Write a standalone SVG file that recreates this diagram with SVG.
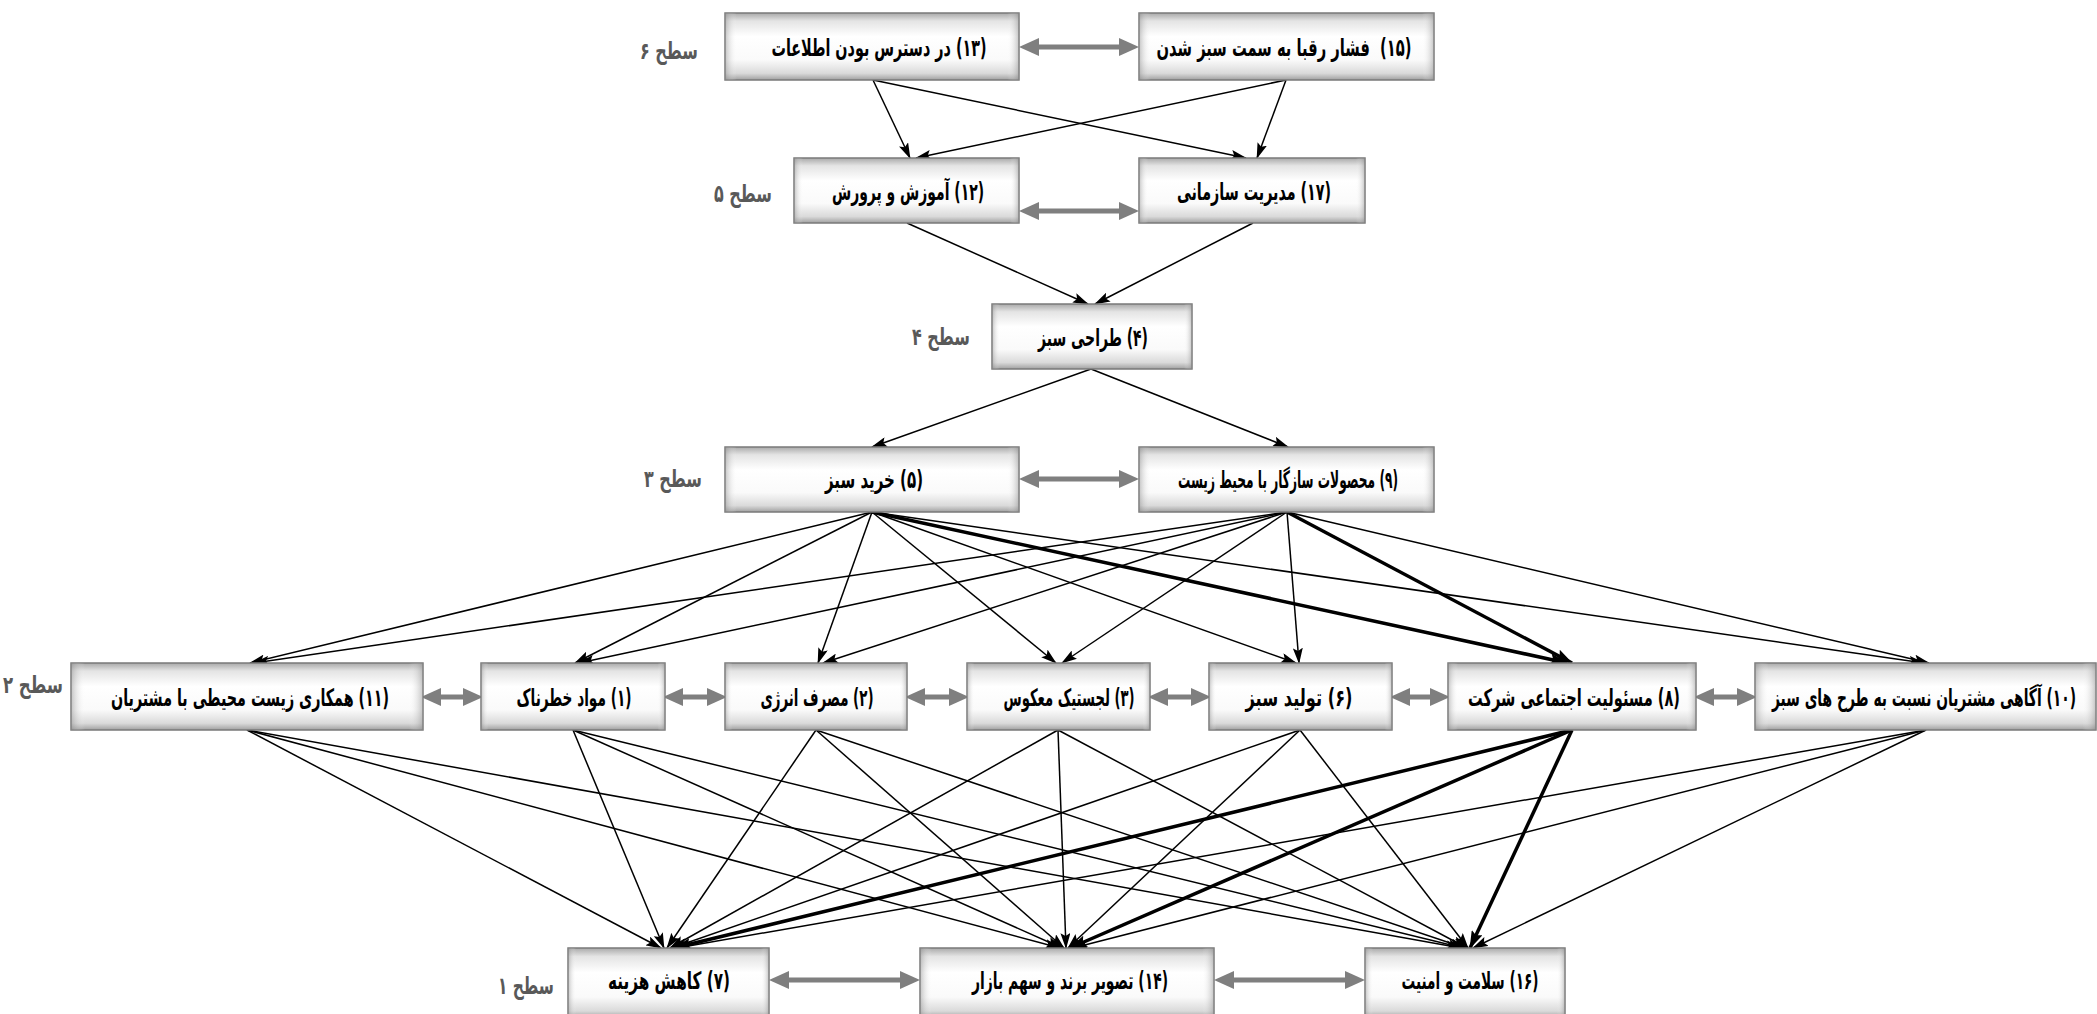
<svg xmlns="http://www.w3.org/2000/svg" width="2097" height="1014" viewBox="0 0 2097 1014">
<style>
.bx{fill:url(#gv);stroke:#7a7a7a;stroke-width:1.5}
.bh{fill:url(#gh);stroke:none}
.nt{font-family:"DejaVu Sans Condensed","DejaVu Sans",sans-serif;font-weight:bold;font-size:24px;fill:#000;text-anchor:middle;direction:rtl;unicode-bidi:embed}
.lv{font-family:"DejaVu Sans Condensed","DejaVu Sans",sans-serif;font-weight:bold;font-size:24px;fill:#595959;text-anchor:middle;direction:rtl;unicode-bidi:embed}
.c{stroke:#000;stroke-width:1.5;fill:none;marker-end:url(#ah)}
.t{stroke:#000;stroke-width:3.5;fill:none;marker-end:url(#ahT)}
.g{stroke:#7f7f7f;stroke-width:5;fill:none;marker-start:url(#ga);marker-end:url(#ga)}
</style>
<defs>
<linearGradient id="gv" x1="0" y1="0" x2="0" y2="1">
<stop offset="0" stop-color="#a9a9a9"/>
<stop offset="0.12" stop-color="#e4e4e4"/>
<stop offset="0.35" stop-color="#ffffff"/>
<stop offset="0.7" stop-color="#fafafa"/>
<stop offset="0.9" stop-color="#dadada"/>
<stop offset="1" stop-color="#a0a0a0"/>
</linearGradient>
<linearGradient id="gh" x1="0" y1="0" x2="1" y2="0">
<stop offset="0" stop-color="#888" stop-opacity="0.5"/>
<stop offset="0.04" stop-color="#fff" stop-opacity="0"/>
<stop offset="0.96" stop-color="#fff" stop-opacity="0"/>
<stop offset="1" stop-color="#888" stop-opacity="0.5"/>
</linearGradient>
<marker id="ah" markerUnits="userSpaceOnUse" markerWidth="16" markerHeight="10" refX="15" refY="5" orient="auto" viewBox="0 0 16 10">
<path d="M0,0 L16,5 L0,10 L3,5 z" fill="#000"/>
</marker>
<marker id="ahT" markerUnits="userSpaceOnUse" markerWidth="18" markerHeight="12" refX="17" refY="6" orient="auto" viewBox="0 0 18 12">
<path d="M0,0 L18,6 L0,12 L3,6 z" fill="#000"/>
</marker>
<marker id="ga" markerUnits="userSpaceOnUse" markerWidth="20" markerHeight="18" refX="0" refY="9" orient="auto-start-reverse" viewBox="0 0 20 18">
<path d="M0,0 L20,9 L0,18 z" fill="#7f7f7f"/>
</marker>
</defs>
<rect width="2097" height="1014" fill="#fff"/>

<g id="levels">
<text class="lv" x="669" y="59" textLength="58" lengthAdjust="spacingAndGlyphs">سطح ۶</text>
<text class="lv" x="743" y="202" textLength="58" lengthAdjust="spacingAndGlyphs">سطح ۵</text>
<text class="lv" x="941" y="345" textLength="58" lengthAdjust="spacingAndGlyphs">سطح ۴</text>
<text class="lv" x="673" y="487" textLength="58" lengthAdjust="spacingAndGlyphs">سطح ۳</text>
<text class="lv" x="33" y="693" textLength="60" lengthAdjust="spacingAndGlyphs">سطح ۲</text>
<text class="lv" x="526" y="994" textLength="56" lengthAdjust="spacingAndGlyphs">سطح ۱</text>
</g>

<g id="connectors">
<line class="c" x1="873" y1="80" x2="910" y2="158"/>
<line class="c" x1="873" y1="80" x2="1246" y2="158"/>
<line class="c" x1="1286" y1="80" x2="916" y2="158"/>
<line class="c" x1="1286" y1="80" x2="1257" y2="158"/>
<line class="c" x1="907" y1="223" x2="1088" y2="304"/>
<line class="c" x1="1253" y1="223" x2="1095" y2="304"/>
<line class="c" x1="1091" y1="369" x2="872" y2="447"/>
<line class="c" x1="1091" y1="369" x2="1288" y2="447"/>

<line class="c" x1="872" y1="512" x2="250" y2="663"/>
<line class="c" x1="872" y1="512" x2="575" y2="663"/>
<line class="c" x1="872" y1="512" x2="818" y2="663"/>
<line class="c" x1="872" y1="512" x2="1056" y2="663"/>
<line class="c" x1="872" y1="512" x2="1296" y2="663"/>
<line class="t" x1="872" y1="512" x2="1567" y2="663"/>
<line class="c" x1="872" y1="512" x2="1924" y2="663"/>
<line class="c" x1="1287" y1="512" x2="254" y2="663"/>
<line class="c" x1="1287" y1="512" x2="579" y2="663"/>
<line class="c" x1="1287" y1="512" x2="823" y2="663"/>
<line class="c" x1="1287" y1="512" x2="1062" y2="663"/>
<line class="c" x1="1287" y1="512" x2="1299" y2="663"/>
<line class="t" x1="1287" y1="512" x2="1572" y2="663"/>
<line class="c" x1="1287" y1="512" x2="1929" y2="663"/>

<line class="c" x1="247" y1="730" x2="661" y2="948"/>
<line class="c" x1="247" y1="730" x2="1060" y2="948"/>
<line class="c" x1="247" y1="730" x2="1461" y2="948"/>
<line class="c" x1="573" y1="730" x2="664" y2="948"/>
<line class="c" x1="573" y1="730" x2="1062" y2="948"/>
<line class="c" x1="573" y1="730" x2="1463" y2="948"/>
<line class="c" x1="816" y1="730" x2="667" y2="948"/>
<line class="c" x1="816" y1="730" x2="1064" y2="948"/>
<line class="c" x1="816" y1="730" x2="1465" y2="948"/>
<line class="c" x1="1058" y1="730" x2="670" y2="948"/>
<line class="c" x1="1058" y1="730" x2="1066" y2="948"/>
<line class="c" x1="1058" y1="730" x2="1467" y2="948"/>
<line class="c" x1="1300" y1="730" x2="672" y2="948"/>
<line class="c" x1="1300" y1="730" x2="1068" y2="948"/>
<line class="c" x1="1300" y1="730" x2="1468" y2="948"/>
<line class="t" x1="1572" y1="730" x2="674" y2="948"/>
<line class="t" x1="1572" y1="730" x2="1070" y2="948"/>
<line class="t" x1="1572" y1="730" x2="1470" y2="948"/>
<line class="c" x1="1926" y1="730" x2="677" y2="948"/>
<line class="c" x1="1926" y1="730" x2="1073" y2="948"/>
<line class="c" x1="1926" y1="730" x2="1473" y2="948"/>

<line class="g" x1="1039" y1="47" x2="1119" y2="47"/>
<line class="g" x1="1039" y1="211" x2="1119" y2="211"/>
<line class="g" x1="1039" y1="479" x2="1119" y2="479"/>
<line class="g" x1="441" y1="697" x2="463" y2="697"/>
<line class="g" x1="683" y1="697" x2="707" y2="697"/>
<line class="g" x1="925" y1="697" x2="949" y2="697"/>
<line class="g" x1="1168" y1="697" x2="1191" y2="697"/>
<line class="g" x1="1410" y1="697" x2="1430" y2="697"/>
<line class="g" x1="1714" y1="697" x2="1737" y2="697"/>
<line class="g" x1="789" y1="980" x2="900" y2="980"/>
<line class="g" x1="1234" y1="980" x2="1345" y2="980"/>
</g>

<g id="n13"><rect class="bx" x="725" y="13" width="294" height="67"/><rect class="bh" x="725" y="13" width="294" height="67"/><text class="nt" x="879" y="56" textLength="215" lengthAdjust="spacingAndGlyphs">(۱۳) در دسترس بودن اطلاعات</text></g>
<g id="n15"><rect class="bx" x="1139" y="13" width="295" height="67"/><rect class="bh" x="1139" y="13" width="295" height="67"/><text class="nt" x="1284" y="56" textLength="255" lengthAdjust="spacingAndGlyphs" style="white-space:pre">(۱۵)  فشار رقبا به سمت سبز شدن</text></g>
<g id="n12"><rect class="bx" x="794" y="158" width="225" height="65"/><rect class="bh" x="794" y="158" width="225" height="65"/><text class="nt" x="908" y="200" textLength="152" lengthAdjust="spacingAndGlyphs">(۱۲) آموزش و پرورش</text></g>
<g id="n17"><rect class="bx" x="1139" y="158" width="226" height="65"/><rect class="bh" x="1139" y="158" width="226" height="65"/><text class="nt" x="1254" y="200" textLength="154" lengthAdjust="spacingAndGlyphs">(۱۷) مدیریت سازمانی</text></g>
<g id="n4"><rect class="bx" x="992" y="304" width="200" height="65"/><rect class="bh" x="992" y="304" width="200" height="65"/><text class="nt" x="1093" y="346" textLength="110" lengthAdjust="spacingAndGlyphs">(۴) طراحی سبز</text></g>
<g id="n5"><rect class="bx" x="725" y="447" width="294" height="65"/><rect class="bh" x="725" y="447" width="294" height="65"/><text class="nt" x="874" y="488" textLength="98" lengthAdjust="spacingAndGlyphs">(۵) خرید سبز</text></g>
<g id="n9"><rect class="bx" x="1139" y="447" width="295" height="65"/><rect class="bh" x="1139" y="447" width="295" height="65"/><text class="nt" x="1288" y="488" textLength="220" lengthAdjust="spacingAndGlyphs">(۹) محصولات سازگار با محیط زیست</text></g>
<g id="n11"><rect class="bx" x="71" y="663" width="352" height="67"/><rect class="bh" x="71" y="663" width="352" height="67"/><text class="nt" x="250" y="706" textLength="278" lengthAdjust="spacingAndGlyphs">(۱۱) همکاری زیست محیطی با مشتریان</text></g>
<g id="n1"><rect class="bx" x="481" y="663" width="184" height="67"/><rect class="bh" x="481" y="663" width="184" height="67"/><text class="nt" x="574" y="706" textLength="115" lengthAdjust="spacingAndGlyphs">(۱) مواد خطرناک</text></g>
<g id="n2"><rect class="bx" x="725" y="663" width="182" height="67"/><rect class="bh" x="725" y="663" width="182" height="67"/><text class="nt" x="817" y="706" textLength="113" lengthAdjust="spacingAndGlyphs">(۲) مصرف انرژی</text></g>
<g id="n3"><rect class="bx" x="967" y="663" width="183" height="67"/><rect class="bh" x="967" y="663" width="183" height="67"/><text class="nt" x="1069" y="706" textLength="131" lengthAdjust="spacingAndGlyphs">(۳) لجستیک معکوس</text></g>
<g id="n6"><rect class="bx" x="1209" y="663" width="183" height="67"/><rect class="bh" x="1209" y="663" width="183" height="67"/><text class="nt" x="1299" y="706" textLength="107" lengthAdjust="spacingAndGlyphs">(۶) تولید سبز</text></g>
<g id="n8"><rect class="bx" x="1448" y="663" width="248" height="67"/><rect class="bh" x="1448" y="663" width="248" height="67"/><text class="nt" x="1574" y="706" textLength="212" lengthAdjust="spacingAndGlyphs">(۸) مسئولیت اجتماعی شرکت</text></g>
<g id="n10"><rect class="bx" x="1755" y="663" width="341" height="67"/><rect class="bh" x="1755" y="663" width="341" height="67"/><text class="nt" x="1924" y="706" textLength="304" lengthAdjust="spacingAndGlyphs">(۱۰) آگاهی مشتریان نسبت به طرح های سبز</text></g>
<g id="n7"><rect class="bx" x="568" y="948" width="201" height="70"/><rect class="bh" x="568" y="948" width="201" height="70"/><text class="nt" x="669" y="989" textLength="122" lengthAdjust="spacingAndGlyphs">(۷) کاهش هزینه</text></g>
<g id="n14"><rect class="bx" x="920" y="948" width="294" height="70"/><rect class="bh" x="920" y="948" width="294" height="70"/><text class="nt" x="1070" y="989" textLength="196" lengthAdjust="spacingAndGlyphs">(۱۴) تصویر برند و سهم بازار</text></g>
<g id="n16"><rect class="bx" x="1365" y="948" width="200" height="70"/><rect class="bh" x="1365" y="948" width="200" height="70"/><text class="nt" x="1470" y="989" textLength="137" lengthAdjust="spacingAndGlyphs">(۱۶) سلامت و امنیت</text></g>
</svg>
